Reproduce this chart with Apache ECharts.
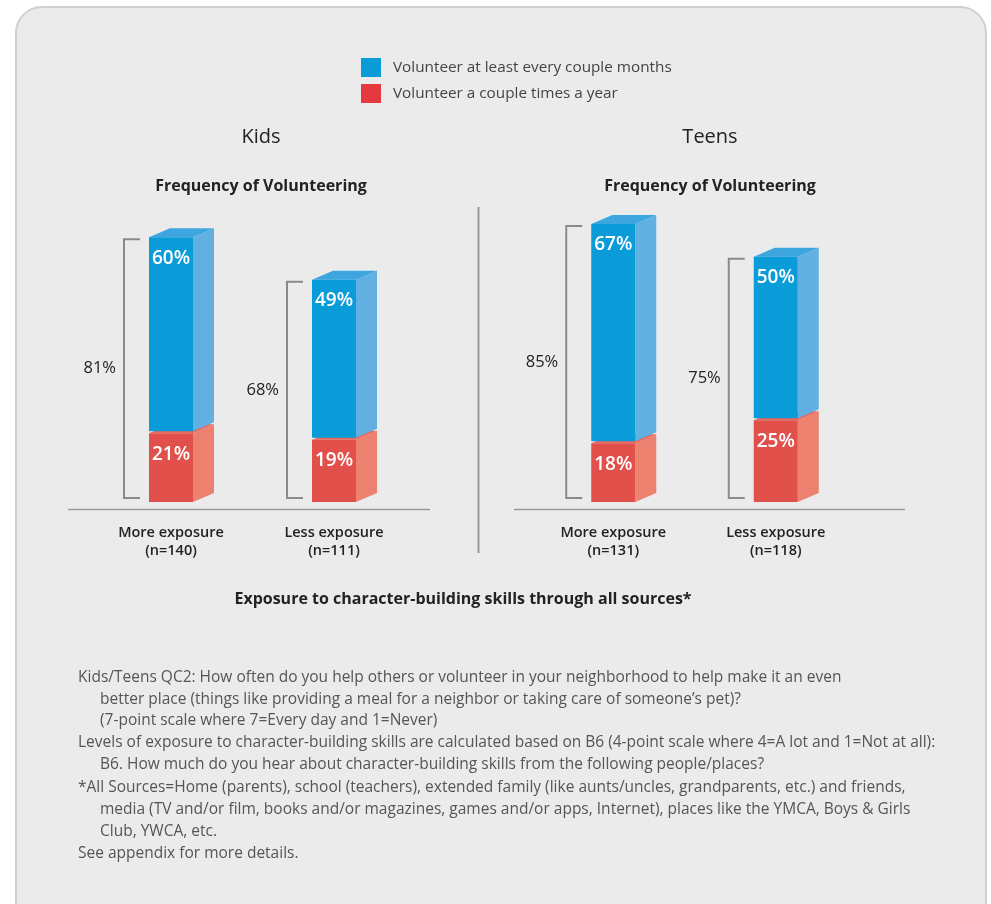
<!DOCTYPE html>
<html><head><meta charset="utf-8">
<script src="https://cdn.jsdelivr.net/npm/echarts@6/dist/echarts.min.js"></script>
<style>html,body{margin:0;padding:0;background:#fff}#c{width:991px;height:904px}</style>
</head><body><div id="c"></div><script>
const legendNames = ['Volunteer at least every couple months', 'Volunteer a couple times a year'];
const groupTitles = ['Kids', 'Teens'];
const subTitle = 'Frequency of Volunteering';
const categories = ['More exposure', 'Less exposure'];
const kidsN = ['(n=140)', '(n=111)'];
const teensN = ['(n=131)', '(n=118)'];
const kidsOften = [60, 49];
const kidsYearly = [21, 19];
const kidsTotal = [81, 68];
const teensOften = [67, 50];
const teensYearly = [18, 25];
const teensTotal = [85, 75];
const xTitle = 'Exposure to character-building skills through all sources*';
const notes = [
  [0, 'Kids/Teens QC2: How often do you help others or volunteer in your neighborhood to help make it an even'],
  [1, 'better place (things like providing a meal for a neighbor or taking care of someone\u2019s pet)?'],
  [1, '(7-point scale where 7=Every day and 1=Never)'],
  [0, 'Levels of exposure to character-building skills are calculated based on B6 (4-point scale where 4=A lot and 1=Not at all):'],
  [1, 'B6. How much do you hear about character-building skills from the following people/places?'],
  [0, '*All Sources=Home (parents), school (teachers), extended family (like aunts/uncles, grandparents, etc.) and friends,'],
  [1, 'media (TV and/or film, books and/or magazines, games and/or apps, Internet), places like the YMCA, Boys & Girls'],
  [1, 'Club, YWCA, etc.'],
  [0, 'See appendix for more details.']
];

const FONT = '"Open Sans", "Liberation Sans", sans-serif';
const BLUE = {front: '#0a9bd9', side: '#62b0e1', top: '#3da6de'};
const RED = {front: '#e2504b', side: '#ec8170', top: '#e8675d'};

function boxRender(col, withBracket) {
  return function (params, api) {
    const cat = api.value(0), lo = api.value(1), hi = api.value(2), total = api.value(3), seg = api.value(4);
    const pLo = api.coord([cat, lo]);
    const pHi = api.coord([cat, hi]);
    const pBase = api.coord([cat, 0]);
    const w = 44, dx = 21, dy = 9;
    const gap = lo > 0 ? 2 : 0;
    const x0 = pLo[0] - w / 2, x1 = x0 + w, yb = pLo[1] - gap, yt = pHi[1];
    const children = [
      {type: 'polygon', shape: {points: [[x1, yt], [x1 + dx, yt - dy], [x1 + dx, yb - dy], [x1, yb]]}, style: {fill: col.side}},
      {type: 'polygon', shape: {points: [[x0, yt], [x0 + dx, yt - dy], [x1 + dx, yt - dy], [x1, yt]]}, style: {fill: col.top}},
      {type: 'rect', shape: {x: x0, y: yt, width: w, height: yb - yt}, style: {fill: col.front}},
      {type: 'text', style: {text: seg + '%', x: (x0 + x1) / 2, y: yt + 21, align: 'center', verticalAlign: 'middle', fill: '#fff', font: '600 19px ' + FONT}}
    ];
    if (withBracket) {
      const bx = x0 - 25, bt = yt + 2, bbm = pBase[1] - 4, tx = x0 - 9;
      children.push({type: 'polyline', shape: {points: [[tx, bt], [bx, bt], [bx, bbm], [tx, bbm]]}, style: {stroke: '#8a8a8c', lineWidth: 2, fill: null}});
      children.push({type: 'text', style: {text: total + '%', x: bx - 8, y: (bt + bbm) / 2, align: 'right', verticalAlign: 'middle', fill: '#222', font: '16.5px ' + FONT}});
    }
    return {type: 'group', children: children};
  };
}

function redData(yearly, total) { return yearly.map((v, i) => [i, 0, v, total[i], v]); }
function blueData(yearly, often, total) { return often.map((v, i) => [i, yearly[i], yearly[i] + v, total[i], v]); }

function xAxisFor(gi, nArr) {
  return {
    type: 'category', gridIndex: gi, data: categories,
    axisLine: {show: false}, axisTick: {show: false},
    axisLabel: {
      margin: 22, interval: 0,
      formatter: (v, i) => v + '\n' + nArr[i],
      fontFamily: FONT, fontSize: 14.5, fontWeight: 600, color: '#222', lineHeight: 18
    }
  };
}
function yAxisFor(gi) {
  return {type: 'value', gridIndex: gi, min: 0, max: 100, show: false, splitLine: {show: false}};
}

const graphics = [
  {type: 'rect', z: -100, shape: {x: 16, y: 7, width: 970, height: 940, r: 26}, style: {fill: '#ebebeb', stroke: '#d3cfd0', lineWidth: 2}},
  {type: 'line', shape: {x1: 68, y1: 509.5, x2: 430, y2: 509.5}, style: {stroke: '#9a9a9a', lineWidth: 1.5}},
  {type: 'line', shape: {x1: 514, y1: 509.5, x2: 905, y2: 509.5}, style: {stroke: '#9a9a9a', lineWidth: 1.5}},
  {type: 'line', shape: {x1: 478.5, y1: 207, x2: 478.5, y2: 553}, style: {stroke: '#9a9a9a', lineWidth: 2}},
  {type: 'text', style: {text: groupTitles[0], x: 261, y: 137, align: 'center', verticalAlign: 'middle', fill: '#222', font: '20px ' + FONT}},
  {type: 'text', style: {text: groupTitles[1], x: 710, y: 137, align: 'center', verticalAlign: 'middle', fill: '#222', font: '20px ' + FONT}},
  {type: 'text', style: {text: subTitle, x: 261, y: 186, align: 'center', verticalAlign: 'middle', fill: '#222', font: 'bold 16px ' + FONT}},
  {type: 'text', style: {text: subTitle, x: 710, y: 186, align: 'center', verticalAlign: 'middle', fill: '#222', font: 'bold 16px ' + FONT}},
  {type: 'text', style: {text: xTitle, x: 463, y: 599, align: 'center', verticalAlign: 'middle', fill: '#222', font: 'bold 16px ' + FONT}}
];
const noteY = [678, 700, 721, 743, 765, 788, 810, 832, 854];
notes.forEach((n, i) => {
  graphics.push({type: 'text', style: {text: n[1], x: n[0] ? 100 : 78, y: noteY[i], align: 'left', verticalAlign: 'middle', fill: '#555', font: '15.5px ' + FONT}});
});

const option = {
  backgroundColor: '#ffffff',
  animation: false,
  legend: {
    orient: 'vertical', left: 361, top: 58, itemWidth: 20, itemHeight: 19, itemGap: 7, padding: 0,
    icon: 'rect', selectedMode: false,
    textStyle: {fontFamily: FONT, fontSize: 15.3, color: '#444', padding: [0, 0, 0, 7]},
    data: [
      {name: legendNames[0], itemStyle: {color: '#0a9bd9'}},
      {name: legendNames[1], itemStyle: {color: '#e4393e'}}
    ]
  },
  grid: [
    {left: 89.5, width: 326, top: 175, height: 327},
    {left: 532, width: 325, top: 175, height: 327}
  ],
  xAxis: [xAxisFor(0, kidsN), xAxisFor(1, teensN)],
  yAxis: [yAxisFor(0), yAxisFor(1)],
  graphic: graphics,
  series: [
    {type: 'custom', name: legendNames[1], xAxisIndex: 0, yAxisIndex: 0, itemStyle: {color: '#e4393e'}, renderItem: boxRender(RED, false), encode: {x: 0, y: [1, 2]}, data: redData(kidsYearly, kidsTotal)},
    {type: 'custom', name: legendNames[0], xAxisIndex: 0, yAxisIndex: 0, itemStyle: {color: '#0a9bd9'}, renderItem: boxRender(BLUE, true), encode: {x: 0, y: [1, 2]}, data: blueData(kidsYearly, kidsOften, kidsTotal)},
    {type: 'custom', name: legendNames[1], xAxisIndex: 1, yAxisIndex: 1, itemStyle: {color: '#e4393e'}, renderItem: boxRender(RED, false), encode: {x: 0, y: [1, 2]}, data: redData(teensYearly, teensTotal)},
    {type: 'custom', name: legendNames[0], xAxisIndex: 1, yAxisIndex: 1, itemStyle: {color: '#0a9bd9'}, renderItem: boxRender(BLUE, true), encode: {x: 0, y: [1, 2]}, data: blueData(teensYearly, teensOften, teensTotal)}
  ]
};
const chart = echarts.init(document.getElementById('c'), null, {renderer: 'canvas'});
chart.setOption(option);
</script></body></html>
